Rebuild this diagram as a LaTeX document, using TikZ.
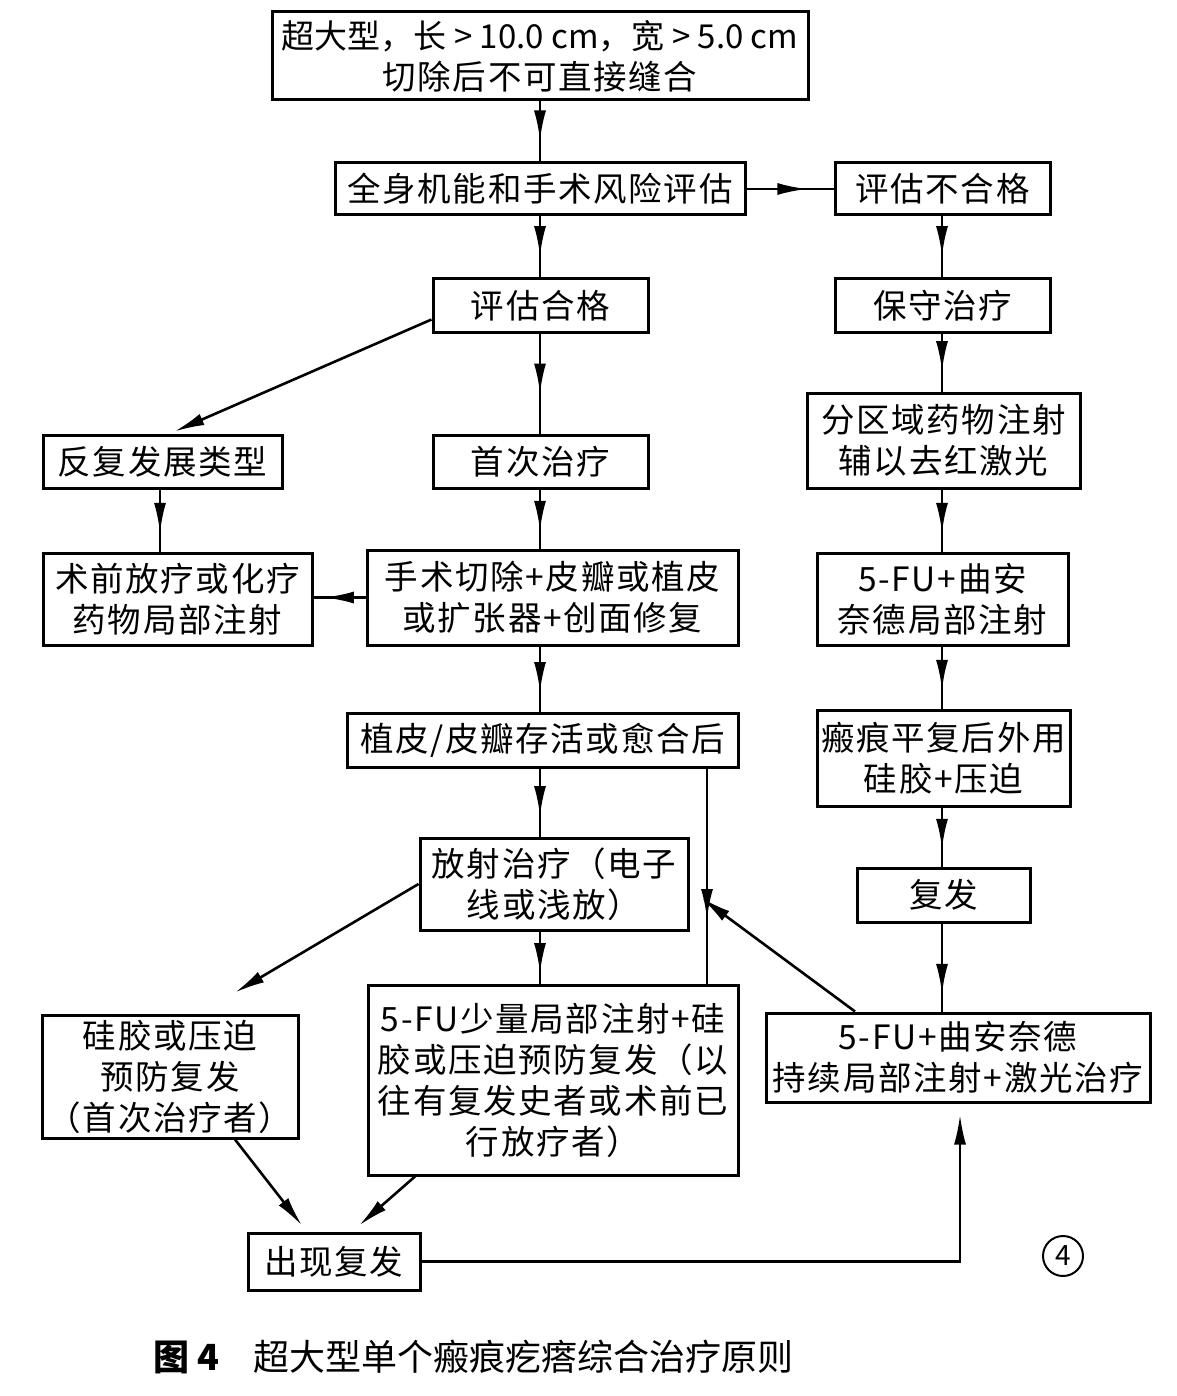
\documentclass[tikz,border=0pt]{standalone}
\usepackage{fontspec}
\setmainfont{Noto Sans CJK SC}[LetterSpace=5]
\newfontfamily\plainfont{Noto Sans CJK SC}
\usetikzlibrary{arrows.meta,decorations.markings}
\newcommand\mybox[6]{\node[bx,minimum width={#4-#2},minimum height={#5-#3}] (#1) at ({(#2+#4)/2},{(#3+#5)/2}) {#6};}
\begin{document}
\begin{tikzpicture}[x=1pt,y=-1pt,
  bx/.style={draw, line width=3pt, inner sep=0pt, align=center, font=\fontsize{33.5}{41}\selectfont},
  ln/.style={line width=2.6pt},
  tip/.style={ln,-{Latex[length=30pt,width=12pt]}},
  ma/.style={ln, postaction={decorate}, decoration={markings, mark=at position #1 with {\arrow{Latex[length=30pt,width=12pt]}}}},
]
\useasboundingbox (0,0) rectangle (1176,1396);
\fill[white] (0,0) rectangle (1176,1396);
\coordinate (cM) at (540,0);
\coordinate (cR) at (942,0);
\coordinate (cL) at (160,0);
\coordinate (cV) at (707,0);
\coordinate (cU) at (960,0);

\mybox{top}{272}{12}{808}{100}{{\plainfont\fontsize{33}{41}\selectfont 超大型，长 > 10.0 cm，宽 > 5.0 cm}\\切除后不可直接缝合}
\mybox{qs}{335}{163}{745}{215}{全身机能和手术风险评估}
\mybox{bhg}{835}{163}{1050}{215}{评估不合格}
\mybox{hg}{433}{279}{648}{332}{评估合格}
\mybox{bs}{835}{279}{1050}{332}{保守治疗}
\mybox{fz}{43}{435}{282}{488}{反复发展类型}
\mybox{sc}{433}{435}{648}{488}{首次治疗}
\mybox{fq}{807}{393}{1080}{488}{分区域药物注射\\辅以去红激光}
\mybox{sq}{43}{553}{312}{645}{术前放疗或化疗\\药物局部注射}
\mybox{ss}{367}{550}{738}{645}{手术切除+皮瓣或植皮\\或扩张器+创面修复}
\mybox{fa}{817}{553}{1068}{645}{5-FU+曲安\\奈德局部注射}
\mybox{zp}{347}{713}{738}{767}{植皮/皮瓣存活或愈合后}
\mybox{bh}{817}{710}{1070}{806}{瘢痕平复后外用\\硅胶+压迫}
\mybox{fs}{420}{838}{688}{930}{放射治疗（电子\\线或浅放）}
\mybox{ff}{857}{868}{1030}{922}{复发}
\mybox{gj}{42}{1015}{298}{1138}{硅胶或压迫\\预防复发\\（首次治疗者）}
\mybox{fu}{368}{985}{738}{1175}{5-FU少量局部注射+硅\\胶或压迫预防复发（以\\往有复发史者或术前已\\行放疗者）}
\mybox{cx}{766}{1013}{1150}{1102}{5-FU+曲安奈德\\持续局部注射+激光治疗}
\mybox{cf}{248}{1233}{420}{1290}{出现复发}

\node[circle,draw,line width=2pt,minimum size=40pt,inner sep=0pt,font=\plainfont\fontsize{28}{28}\selectfont] (n4) at (1063,1256) {4};
\node[anchor=west,font=\plainfont\fontsize{36}{40}\selectfont] (cap) at (150,1357) {\textbf{图 4}\hspace{34pt}超大型单个瘢痕疙瘩综合治疗原则};

\draw[ma=0.65] (top.south -| cM) -- (qs.north -| cM);
\draw[ma=0.7] (qs.east) -- (bhg.west);
\draw[ma=0.65] (qs.south -| cM) -- (hg.north -| cM);
\draw[ma=0.65] (bhg.south -| cR) -- (bs.north -| cR);
\draw[tip] ([yshift=-14pt]hg.west) -- ([xshift=12pt,yshift=2pt]fz.north);
\draw[ma=0.6] (hg.south -| cM) -- (sc.north -| cM);
\draw[ma=0.65] (bs.south -| cR) -- (fq.north -| cR);
\draw[ma=0.7] (fz.south -| cL) -- (sq.north -| cL);
\draw[ma=0.7] (sc.south -| cM) -- (ss.north -| cM);
\draw[ma=0.7] (fq.south -| cR) -- (fa.north -| cR);
\draw[ma=0.8] (ss.west) -- (ss.west -| sq.east);
\draw[ma=0.7] (ss.south -| cM) -- (zp.north -| cM);
\draw[ma=0.7] (fa.south -| cR) -- (bh.north -| cR);
\draw[ma=0.7] (zp.south -| cV) -- (fu.north -| cV);
\draw[ma=0.7] (zp.south -| cM) -- (fs.north -| cM);
\draw[ma=0.7] (bh.south -| cR) -- (ff.north -| cR);
\draw[ma=0.8] (fs.south -| cM) -- (fu.north -| cM);
\draw[tip] (fs.west) -- ([xshift=65pt,yshift=21pt]gj.north);
\draw[ma=0.8] (ff.south -| cR) -- (cx.north -| cR);
\draw[tip] ([xshift=-103pt]cx.north) -- ([xshift=12pt,yshift=-14pt]fs.east);
\draw[tip] ([xshift=65pt]gj.south) -- ([xshift=-32pt,yshift=6pt]cf.north);
\draw[tip] ([xshift=-138pt]fu.south) -- ([xshift=25pt,yshift=6pt]cf.north);
\draw[tip] (cf.east) -- (cf.east -| cU) -- ([yshift=-11pt]cx.south -| cU);
\end{tikzpicture}
\end{document}
